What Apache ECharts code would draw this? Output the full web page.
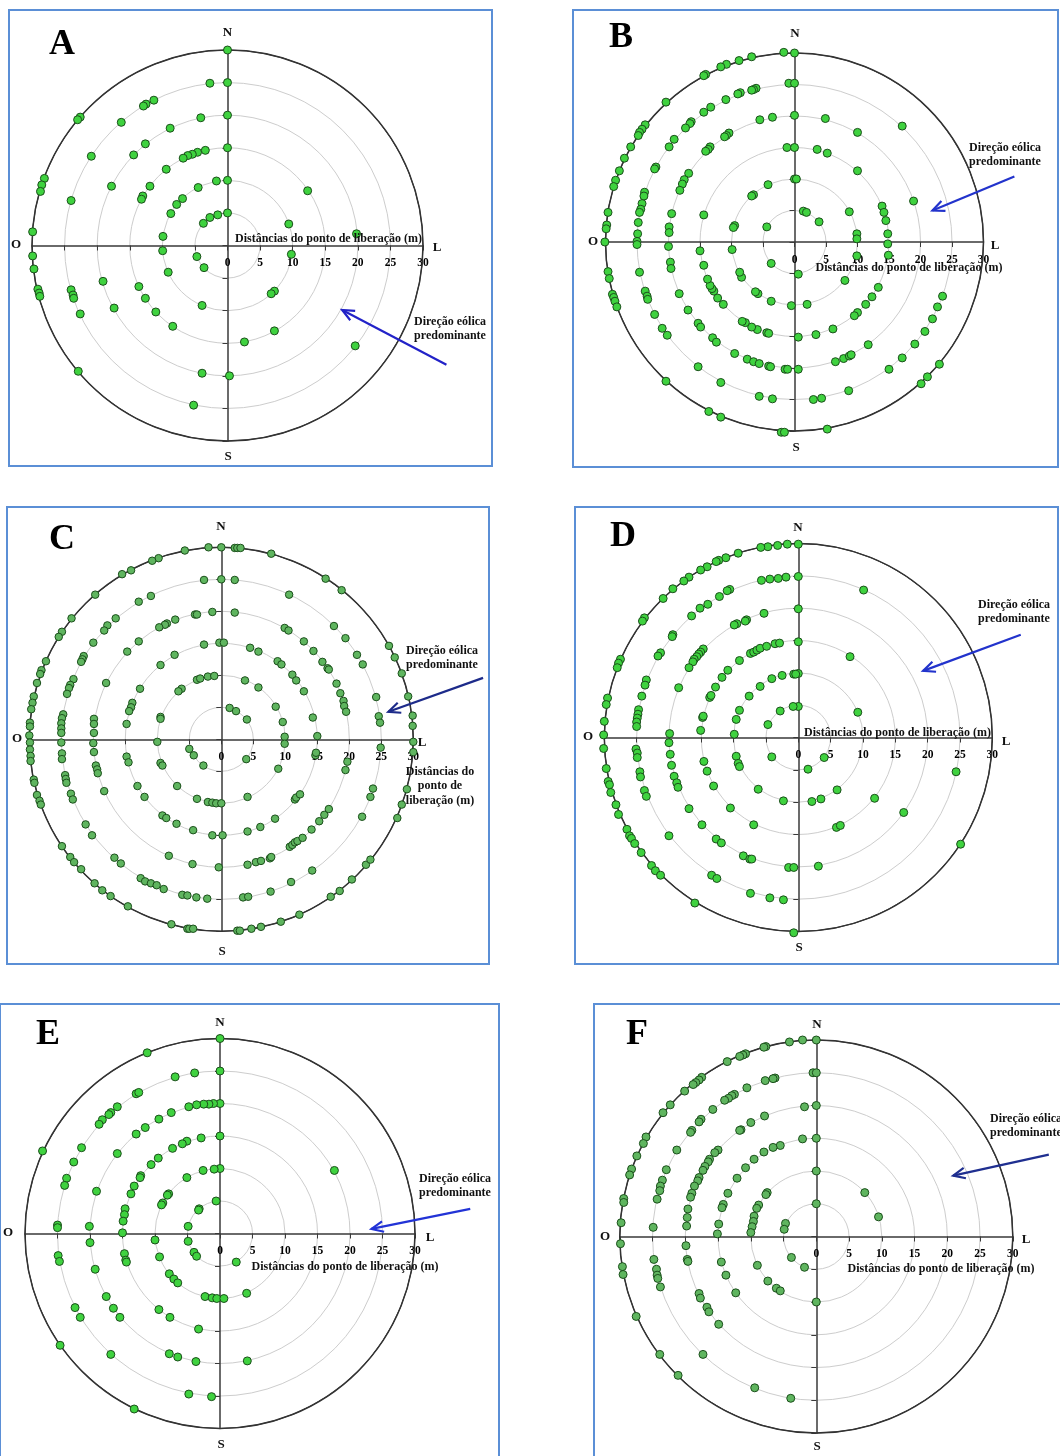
<!DOCTYPE html>
<html><head><meta charset="utf-8">
<script src="https://cdn.jsdelivr.net/npm/echarts@6/dist/echarts.min.js"></script>
<style>html,body{margin:0;padding:0;background:#fff}#chart{width:1060px;height:1456px}</style>
</head><body><div id="chart"></div>
<script>
// ---------- DATA (east, north) in metres from release point ----------
const tickValues = [0, 5, 10, 15, 20, 25, 30];
const panelNames = ['A', 'B', 'C', 'D', 'E', 'F'];
const compassLabels = { N: 'N', S: 'S', O: 'O', L: 'L' };
const axisTitle = 'Distâncias do ponto de liberação (m)';
const axisTitleC = 'Distâncias do\nponto de\nliberação (m)';
const windLabel = 'Direção eólica\npredominante';

const ptsA = [
  [0,30],[-2.7,24.9],[0,25],[-11.3,22.3],[-12.5,21.7],[-12.9,21.4],[-22.6,19.7],[-23.0,19.3],[-16.3,18.9],[-4.1,19.6],
  [0,20],[-8.8,18.0],[-12.6,15.6],[-14.4,13.9],[-20.9,13.7],[-3.4,14.6],[-4.6,14.3],[-5.4,14.0],[-6.1,13.8],[-6.8,13.4],
  [0,15],[-9.4,11.7],[-28.1,10.3],[-28.5,9.3],[-28.7,8.3],[-17.8,9.1],[-11.9,9.1],[-1.7,9.9],[0,10],[-4.5,8.9],
  [-6.9,7.2],[-7.8,6.3],[-13.0,7.6],[-13.2,7.1],[-24.0,6.9],[12.3,8.4],[-8.7,4.9],[-1.5,4.7],[-2.7,4.3],[-3.7,3.4],
  [0,5],[9.4,3.3],[19.8,1.8],[-29.9,2.1],[-9.9,1.4],
  [-9.95,-0.8],[-29.9,-1.6],[-29.7,-3.6],[-29.1,-6.7],[-28.9,-7.3],[-28.8,-7.8],[-24.0,-6.8],[-23.7,-7.6],[-23.6,-8.1],[-22.6,-10.5],
  [-19.1,-5.5],[-17.4,-9.6],[-13.6,-6.3],[-12.6,-8.1],[-11.0,-10.2],[-8.4,-12.4],[-4.7,-1.7],[-3.6,-3.4],[-9.1,-4.1],[-3.9,-9.2],
  [9.8,-1.35],[7.2,-7.0],[6.7,-7.4],[7.2,-13.1],[2.6,-14.8],[19.6,-15.4],[-22.9,-19.3],[-3.9,-19.6],[0.3,-20.0],[-5.2,-24.5]
];

const ptsB = [
  [0,30],[-1.7,30.1],[-6.8,29.4],[-8.8,28.8],[-10.8,28.2],[-11.7,27.8],[-14.1,26.6],[-14.4,26.4],[-20.4,22.2],[-23.7,18.6],
  [-24.2,17.9],[-24.6,17.4],[-24.8,16.9],[-26.0,15.1],[-27.0,13.3],[-27.8,11.3],[-28.4,9.8],[-28.7,8.8],[-29.6,4.7],[-29.8,2.7],
  [-29.9,2.1],[-30.1,0],
  [-0.9,25.2],[0,25.2],[-6.1,24.4],[-6.5,24.2],[-6.8,24.1],[-8.6,23.7],[-9.0,23.5],[-10.9,22.6],[-13.3,21.4],[-14.4,20.6],
  [-16.4,19.1],[-16.6,18.8],[-17.3,18.1],[-19.1,16.3],[-19.9,15.1],[-22.0,11.9],[-22.2,11.6],[-23.8,7.9],[-23.9,7.3],[-24.2,6.1],
  [-24.4,5.2],[-24.6,4.7],[-24.8,3.1],[-24.9,1.3],[-25.0,0.1],[17.1,18.4],
  [0,20.1],[-3.5,19.8],[-5.5,19.4],[-10.4,17.3],[-10.8,16.9],[-11.1,16.7],[-13.4,15.1],[-13.7,14.7],[-14.1,14.4],[-16.8,10.9],
  [-17.5,9.9],[-17.8,9.2],[-18.2,8.2],[-19.5,4.5],[-19.9,2.4],[-19.9,1.5],[4.9,19.6],[10.0,17.4],[18.9,6.5],
  [-1.2,15.0],[0,15],[3.6,14.7],[5.2,14.1],[10.0,11.3],[13.9,5.7],[14.2,4.7],[14.5,3.4],[14.8,1.3],[14.8,-0.3],[-14.4,4.3],
  [0,10],[0.3,10],[-4.2,9.1],[-6.5,7.5],[-6.8,7.3],[-9.5,2.6],[-9.7,2.3],[8.7,4.8],[9.9,1.3],[9.9,0.5],
  [1.4,4.9],[1.9,4.7],[3.9,3.2],[-4.4,2.4],
  [-29.6,-4.7],[-29.4,-5.8],[-28.9,-8.3],[-28.7,-8.8],[-28.5,-9.4],[-28.2,-10.3],[-20.4,-22.1],[-13.6,-26.9],[-11.7,-27.8],[-2.1,-30.2],
  [-1.6,-30.2],[5.2,-29.7],[20.1,-22.5],[21.1,-21.4],[23.0,-19.4],
  [-25.0,-0.4],[-24.6,-4.8],[-23.7,-7.8],[-23.4,-8.6],[-23.3,-9.1],[-22.2,-11.5],[-21.0,-13.7],[-20.2,-14.8],[-15.3,-19.8],[-11.7,-22.3],
  [-5.6,-24.5],[-3.5,-24.9],[3.0,-25.0],[4.3,-24.8],[8.6,-23.6],[15.0,-20.2],[17.1,-18.4],[19.1,-16.2],[20.7,-14.2],[21.9,-12.2],
  [22.7,-10.3],[23.5,-8.6],
  [-20.0,-0.7],[-19.7,-3.2],[-19.6,-4.2],[-18.3,-8.2],[-16.9,-10.8],[-15.3,-12.9],[-14.9,-13.5],[-13.0,-15.2],[-12.4,-15.9],[-9.5,-17.7],
  [-7.5,-18.6],[-6.5,-19.0],[-5.6,-19.3],[-4.1,-19.7],[-3.8,-19.8],[-1.5,-20.2],[-1.1,-20.2],[0.6,-20.2],[6.5,-19.0],[7.8,-18.5],
  [8.7,-18.1],[9.0,-17.9],[11.7,-16.3],
  [14.9,-2.1],[13.3,-7.2],[12.3,-8.7],[11.3,-9.9],[10.0,-11.2],[9.5,-11.7],[6.1,-13.8],[3.4,-14.7],[0.6,-15.1],[-5.9,-13.9],
  [-4.4,-14.4],[-4.1,-14.5],[-6.8,-13.5],[-7.8,-12.8],[-8.3,-12.6],[-11.3,-9.9],[-12.2,-8.9],[-12.8,-7.8],[-13.1,-7.4],[-13.4,-6.9],
  [-13.8,-5.9],[-14.4,-3.7],[-15.0,-1.4],
  [-0.5,-10.1],[2.0,-9.9],[-3.7,-9.4],[-5.8,-8.2],[-6.2,-7.9],[-8.4,-5.6],[-8.7,-4.8],[-9.9,-1.2],[8.0,-6.1],[9.9,-2.2],
  [0.6,-5.1],[-3.7,-3.4]
];

const ptsC = [
  [-2.0,30.0],[0,30],[2.1,29.9],[2.5,29.9],[3.0,29.9],[7.8,29.0],[16.3,25.1],[18.8,23.3],[26.2,14.6],[27.1,12.8],
  [28.2,10.3],[29.2,6.7],[29.9,3.7],[29.9,2.1],[30.0,-0.4],[-5.7,29.5],[-9.8,28.3],[-10.8,27.9],[-14.1,26.4],[-15.5,25.8],
  [-19.7,22.6],[-23.4,18.9],[-24.9,16.8],[-25.4,16.0],[-27.4,12.2],[-28.1,10.8],[-28.3,10.2],[-28.8,8.8],[-29.3,6.7],[-29.5,5.7],
  [-29.7,4.7],[-29.9,2.6],[-29.9,2.0],[-30.0,0.6],
  [-2.7,24.9],[0,25],[2.1,24.9],[10.6,22.6],[17.6,17.7],[19.4,15.8],[21.2,13.2],[22.1,11.7],[24.2,6.6],[24.6,3.6],
  [24.8,2.6],[-11.0,22.4],[-12.9,21.5],[-16.5,18.9],[-17.8,17.8],[-18.3,17.0],[-20.0,15.1],[-21.5,13.0],[-21.7,12.5],[-21.9,12.1],
  [-23.1,9.4],[-23.6,8.5],[-23.8,8.0],[-24.1,7.1],[-24.7,3.9],[-24.9,3.3],[-25.0,2.5],[-25.0,1.7],[-25.0,1.0],
  [-4.1,19.5],[-3.8,19.5],[-1.4,19.9],[2.1,19.8],[-7.2,18.7],[-8.5,18.1],[-8.8,17.9],[-9.7,17.5],[-12.9,15.3],[-14.7,13.7],
  [-18.0,8.8],[-19.9,3.2],[-19.9,2.4],[-19.9,1.0],[9.9,17.4],[10.5,17.0],[12.9,15.3],[14.4,13.8],[15.8,12.1],[16.6,11.1],
  [16.8,10.9],[18.0,8.7],[18.6,7.2],[19.1,6.0],[19.2,5.2],[19.5,4.3],
  [-2.7,14.8],[-0.3,15.1],[0.4,15.1],[4.5,14.3],[5.8,13.7],[-7.3,13.2],[-9.5,11.6],[8.8,12.2],[9.4,11.7],[11.1,10.1],
  [11.7,9.2],[12.9,7.5],[-12.7,7.9],[-13.9,5.7],[-14.1,5.0],[-14.4,4.4],[-14.8,2.4],[14.3,3.4],[15.0,0.5],
  [-3.8,9.3],[-3.3,9.5],[-2.1,9.8],[-1.1,9.9],[3.7,9.2],[5.8,8.1],[8.5,5.1],[9.6,2.7],[9.9,0.4],[-6.2,7.9],
  [-6.7,7.5],[-9.5,3.5],[-9.5,3.2],[1.3,4.9],[2.3,4.4],[4.0,3.1],
  [-29.9,-0.5],[-29.9,-1.6],[-29.8,-2.6],[-29.8,-3.4],[-29.3,-6.3],[-29.2,-6.8],[-28.8,-8.7],[-28.4,-9.6],[-28.2,-10.2],[-24.9,-16.7],
  [-23.6,-18.4],[-23.0,-19.2],[-21.9,-20.3],[-19.8,-22.5],[-18.6,-23.6],[-17.3,-24.5],[-14.6,-26.1],[-7.8,-28.9],[-5.3,-29.6],[-5.0,-29.6],
  [-4.4,-29.6],[2.5,-29.9],[2.9,-29.9],[4.7,-29.6],[6.2,-29.3],[9.3,-28.5],[12.2,-27.4],[17.1,-24.6],[18.5,-23.7],[20.4,-21.9],
  [22.6,-19.6],[23.3,-18.8],[27.5,-12.3],[28.2,-10.2],[29.0,-7.8],[30.0,-2.0],
  [-25.0,-0.5],[-24.9,-2.2],[-24.9,-3.1],[-24.4,-5.6],[-24.3,-6.2],[-24.2,-6.8],[-23.5,-8.5],[-23.2,-9.4],[-21.2,-13.3],[-20.2,-15.0],
  [-16.7,-18.5],[-15.7,-19.4],[-12.6,-21.7],[-11.9,-22.2],[-11.0,-22.5],[-10.1,-22.8],[-9.0,-23.4],[-6.1,-24.3],[-5.3,-24.4],[-3.9,-24.7],
  [-2.2,-24.9],[3.4,-24.7],[4.2,-24.6],[7.7,-23.8],[10.9,-22.3],[14.2,-20.5],[22.0,-12.1],[23.3,-9.0],[23.7,-7.7],[24.9,-1.3],
  [-20.0,-0.6],[-19.9,-2.0],[-19.6,-4.1],[-19.4,-4.7],[-19.3,-5.3],[-18.3,-8.1],[-8.2,-18.2],[-4.5,-19.5],[-0.4,-20.0],[4.1,-19.6],
  [5.4,-19.2],[6.2,-19.0],[7.6,-18.6],[7.8,-18.4],[10.7,-16.8],[11.1,-16.5],[11.5,-16.1],[11.9,-15.9],[12.7,-15.4],[14.1,-14.1],
  [15.3,-12.8],[16.1,-11.8],[16.8,-10.9],[19.7,-3.5],[19.4,-4.8],
  [-14.8,-2.7],[-14.5,-3.6],[-13.1,-7.3],[-12.0,-9.0],[-9.2,-11.9],[-8.6,-12.3],[-7.0,-13.2],[-4.4,-14.2],[-1.4,-15.0],[0.2,-15.0],
  [4.1,-14.4],[6.1,-13.7],[8.4,-12.4],[11.5,-9.4],[11.7,-9.1],[12.3,-8.6],[14.7,-2.5],[14.8,-2.1],
  [-10.0,-0.4],[-9.5,-3.7],[-9.2,-4.1],[-6.9,-7.3],[-3.8,-9.3],[-2.1,-9.8],[-1.4,-9.9],[-0.8,-10.0],[0,-10],[4.1,-9.0],
  [8.9,-4.6],[9.9,-0.7],[-5.0,-1.5],[-4.3,-2.5],[-2.8,-4.1],[3.9,-3.1]
];

const ptsD = [
  [0,29.9],[-1.7,29.9],[-3.2,29.7],[-4.7,29.5],[-5.8,29.4],[-9.3,28.5],[-11.2,27.8],[-12.3,27.4],[-12.7,27.2],[-14.1,26.4],
  [-15.1,25.9],[-16.9,24.8],[-17.7,24.2],[-19.4,23.0],[-20.9,21.5],[-23.8,18.5],[-24.1,18.0],[-27.5,12.1],[-27.8,11.5],[-28.0,10.8],
  [-29.5,6.1],[-29.7,5.1],[-30.0,2.5],[-30.1,0.4],
  [0,24.9],[-1.9,24.8],[-3.1,24.6],[-4.4,24.5],[-5.7,24.3],[-10.6,22.9],[-11.0,22.7],[-12.2,21.8],[-14.0,20.6],[-15.2,20.0],
  [-16.5,18.8],[-19.4,15.9],[-19.5,15.6],[-21.3,13.1],[-21.7,12.6],[-23.5,8.9],[-23.7,8.1],[-24.2,6.4],[-24.7,4.3],[-24.8,3.6],
  [-24.9,3.0],[-25.0,2.4],[-25.0,1.7],[10.1,22.8],
  [0,19.9],[-5.3,19.2],[-8.0,18.2],[-8.2,18.0],[-9.5,17.6],[-9.9,17.4],[-14.7,13.7],[-15.1,13.2],[-15.4,12.9],[-15.7,12.5],
  [-16.1,12.1],[-16.3,11.7],[-16.9,10.8],[-18.5,7.7],[-19.9,0.6],
  [-15.1,1.1],[-14.8,3.1],[-14.7,3.3],[-13.7,6.2],[-13.5,6.5],[-12.8,7.8],[-11.8,9.3],[-10.9,10.4],[-9.1,11.9],[-7.4,13.0],
  [-6.9,13.2],[-6.4,13.5],[-5.9,13.8],[-4.9,14.1],[-3.6,14.5],[-2.9,14.6],[0,14.8],[8.0,12.5],
  [0,9.9],[-0.7,9.8],[-0.4,9.8],[-2.5,9.6],[-4.1,9.1],[-5.9,7.9],[-7.6,6.4],[-9.1,4.2],[-9.6,2.8],[-9.9,0.5],
  [9.2,3.9],[0,4.8],[-0.8,4.8],[-2.8,4.1],[-4.7,2.0],
  [-30.1,-1.7],[-29.7,-4.8],[-29.4,-6.8],[-29.2,-7.3],[-29.0,-8.5],[-28.2,-10.4],[-27.8,-11.9],[-26.5,-14.2],[-26.1,-15.2],[-25.8,-15.6],
  [-25.3,-16.4],[-24.3,-17.8],[-22.7,-19.8],[-22.1,-20.6],[-21.3,-21.3],[-16.0,-25.6],[-0.7,-30.2],[25.1,-16.5],
  [-25.1,-1.8],[-24.9,-2.4],[-24.9,-3.1],[-24.5,-5.3],[-24.4,-6.1],[-23.8,-8.2],[-23.5,-9.1],[-20.0,-15.2],[-13.4,-21.3],[-12.6,-21.8],
  [-7.4,-24.1],[-4.4,-24.8],[-2.3,-25.1],[24.4,-5.3],
  [-20.0,-0.8],[-19.8,-2.6],[-19.6,-4.3],[-19.2,-6.0],[-18.8,-7.0],[-18.6,-7.7],[-16.9,-11.0],[-14.9,-13.5],[-12.7,-15.7],[-11.9,-16.3],
  [-8.5,-18.3],[-7.5,-18.8],[-7.2,-18.8],[-1.5,-20.1],[-0.7,-20.1],[3.1,-19.9],[16.3,-11.6],
  [-14.6,-3.7],[-14.1,-5.2],[-13.1,-7.5],[-10.5,-10.9],[-6.9,-13.5],[5.9,-13.9],[6.5,-13.6],[11.8,-9.4],
  [-9.6,-2.9],[-9.3,-4.0],[-9.1,-4.5],[-6.2,-8.0],[-2.3,-9.8],[2.1,-9.9],[3.5,-9.5],[6.0,-8.1],
  [-4.1,-3.0],[1.5,-4.9],[4.0,-3.1]
];

const ptsE = [
  [0,30],[-11.2,27.8],[-27.3,12.7],[-3.9,24.7],[-6.9,24.1],[0,25],[-12.9,21.5],[-12.5,21.7],[-15.8,19.5],[-16.8,18.6],
  [-17.1,18.3],[-18.1,17.5],[-18.6,16.8],[-21.3,13.2],[-22.5,11.0],[-23.6,8.5],[-23.9,7.4],[-25.0,1.3],[-25.0,0.9],
  [0,20],[-1.0,20.0],[-1.7,19.9],[-2.5,19.9],[-3.6,19.8],[-4.8,19.5],[-7.5,18.6],[-9.4,17.6],[-11.5,16.3],[-12.9,15.3],
  [-15.8,12.3],[-19.0,6.5],[-20.1,1.1],
  [0,15],[-2.9,14.7],[-5.1,14.2],[-5.8,13.8],[-7.3,13.1],[-9.5,11.6],[-10.6,10.6],[-12.2,8.9],[-12.3,8.6],[-13.2,7.3],
  [-13.7,6.1],[-14.6,3.8],[-14.7,2.9],[-14.9,1.9],[-15.0,0.1],[17.6,9.7],
  [0,10],[-0.9,9.9],[-2.6,9.7],[-5.1,8.6],[-7.9,6.1],[-8.1,5.9],[-8.8,4.7],[-9.0,4.4],[-10.0,-1.0],
  [-0.6,5.0],[-3.2,3.8],[-3.3,3.6],[-4.9,1.1],[-4.9,-1.2],
  [-24.9,-3.4],[-24.7,-4.3],[-20.0,-1.4],[-14.7,-3.1],[-14.5,-4.1],[-14.4,-4.4],[-9.3,-3.6],[-4.0,-2.9],[-3.6,-3.5],[2.5,-4.4],
  [-19.2,-5.5],[-7.8,-6.2],[-7.1,-7.0],[-6.5,-7.6],[-17.5,-9.7],[-22.3,-11.4],[-21.5,-12.9],[-16.4,-11.5],[-15.4,-12.9],[-9.4,-11.7],
  [-7.7,-12.9],[-3.3,-14.7],[-2.3,-9.7],[-1.2,-9.9],[-0.5,-10.0],[0.6,-10.0],[4.1,-9.2],[-24.6,-17.2],[-16.8,-18.6],[-7.8,-18.5],
  [-6.5,-19.0],[-3.7,-19.7],[4.2,-19.6],[-4.8,-24.7],[-1.3,-25.1],[-13.2,-27.0]
];

const ptsF = [
  [0,30],[-2.1,30.0],[-4.1,29.7],[-7.7,29.0],[-8.0,28.9],[-10.8,27.9],[-11.2,27.7],[-11.7,27.5],[-13.6,26.7],[-17.5,24.3],
  [-17.9,23.9],[-18.4,23.5],[-18.8,23.2],[-20.1,22.2],[-22.3,20.1],[-23.4,18.9],[-26.0,15.2],[-26.4,14.2],[-27.4,12.3],[-28.2,10.3],
  [-28.5,9.4],[-29.4,5.8],[-29.4,5.2],[-29.8,2.1],
  [-0.5,25.0],[0,25],[-6.3,24.2],[-6.6,24.1],[-7.8,23.8],[-10.6,22.7],[-12.5,21.7],[-12.9,21.5],[-13.4,21.1],[-14.0,20.8],
  [-15.8,19.4],[-17.6,17.9],[-17.9,17.5],[-19.0,16.2],[-19.2,15.9],[-21.3,13.2],[-22.9,10.2],[-23.5,8.6],[-23.8,7.7],[-23.9,7.0],
  [-24.3,5.7],[-24.9,1.4],
  [0,20],[-1.8,19.8],[-7.9,18.4],[-10.0,17.4],[-11.5,16.3],[-11.7,16.2],[-15.0,13.2],[-15.5,12.8],[-16.3,11.8],[-16.5,11.4],
  [-17.0,10.7],[-17.3,10.1],[-17.9,9.0],[-18.1,8.5],[-18.6,7.7],[-19.0,6.6],[-19.2,6.0],[-19.6,4.2],[-19.7,2.9],[-19.8,1.6],
  [0,15],[-2.1,14.9],[-5.5,13.9],[-6.6,13.6],[-8.0,12.9],[-9.5,11.8],[-10.8,10.5],[-12.1,8.9],[-13.5,6.6],[-14.2,4.9],
  [-14.4,4.4],[-14.9,1.9],[-15.1,0.4],
  [0,10],[-7.5,6.7],[-7.7,6.4],[-8.8,4.8],[-9.1,4.3],[-9.5,3.1],[-9.6,2.3],[-9.8,1.5],[-10.0,0.6],[7.4,6.7],
  [9.5,3.0],[0,5],[-4.7,2.0],[-4.9,1.1],
  [-29.9,-1.1],[-29.6,-4.6],[-29.5,-5.8],[-24.8,-3.5],[-24.4,-5.0],[-24.3,-5.9],[-24.2,-6.4],[-23.8,-7.7],[-27.5,-12.2],[-23.9,-18.0],
  [-21.1,-21.2],[-19.9,-1.4],[-19.7,-3.5],[-19.6,-3.8],[-14.5,-3.9],[-13.8,-5.9],[-12.3,-8.6],[-17.9,-8.7],[-17.7,-9.4],[-16.7,-10.8],
  [-16.4,-11.5],[-14.9,-13.4],[-17.3,-18.0],[-9.0,-4.4],[-7.4,-6.8],[-6.1,-7.9],[-5.5,-8.3],[-3.8,-3.2],[-1.8,-4.7],[0,-10],
  [-9.4,-23.1],[-3.9,-24.7]
];

// wind arrows: [tail, head] in metres
const arrowA = [[33.6,-18.3],[17.6,-9.9]];
const arrowB = [[34.9,10.4],[21.9,5.0]];
const arrowC = [[40.9,9.6],[26.1,4.3]];
const arrowD = [[34.4,15.9],[19.3,10.3]];
const arrowE = [[38.5,3.8],[23.3,0.7]];
const arrowF = [[35.5,12.5],[20.9,9.3]];

const allPts = [ptsA, ptsB, ptsC, ptsD, ptsE, ptsF];
const allArrows = [arrowA, arrowB, arrowC, arrowD, arrowE, arrowF];

// ---------- LAYOUT / STYLE ----------
const layout = [
  {box:[9,10,483,456], c:[227.5,245.5], r:195.5, fill:'#3fd23f', letter:[62,45],
   N:[227.5,33], S:[228,457], O:[16,245], L:[437,248],
   title:{x:422,y:239,align:'right',multi:false}, wind:{x:450,y:329,align:'center'}, arrow:'#2222c8'},
  {box:[573,10,485,457], c:[794.5,242], r:189, fill:'#3fd23f', letter:[621,38],
   N:[795,34], S:[796,448], O:[593,242], L:[995,246],
   title:{x:909,y:268,align:'center',multi:false}, wind:{x:1005,y:155,align:'center'}, arrow:'#2233cc'},
  {box:[7,507,482,457], c:[221.3,739.3], r:192, fill:'#5fb55f', letter:[62,540],
   N:[221,527], S:[222,952], O:[17,739], L:[422,743],
   title:{x:440,y:786,align:'center',multi:true}, wind:{x:442,y:658,align:'center'}, arrow:'#1d2b8a'},
  {box:[575,507,483,457], c:[798.3,737.5], r:194, fill:'#3fd23f', letter:[623,537],
   N:[798,528], S:[799,948], O:[588,737], L:[1006,742],
   title:{x:991,y:733,align:'right',multi:false}, wind:{x:1014,y:612,align:'center'}, arrow:'#2233cc'},
  {box:[0,1004,499,462], c:[220,1233.5], r:195, fill:'#3fd23f', letter:[48,1035],
   N:[220,1023], S:[221,1445], O:[8,1233], L:[430,1238],
   title:{x:345,y:1267,align:'center',multi:false}, wind:{x:455,y:1186,align:'center'}, arrow:'#2233d6'},
  {box:[594,1004,475,462], c:[816.3,1236.5], r:196.5, fill:'#5fb55f', letter:[637,1035],
   N:[817,1025], S:[817,1447], O:[605,1237], L:[1026,1240],
   title:{x:941,y:1269,align:'center',multi:false}, wind:{x:990,y:1126,align:'left'}, arrow:'#1f2f90'}
];

const FONT = '"Liberation Serif", "Times New Roman", serif';

const grids = [], xAxes = [], yAxes = [], polars = [], angleAxes = [], radiusAxes = [], series = [];
layout.forEach((p, i) => {
  grids.push({left: p.c[0] - p.r, top: p.c[1] - p.r, width: 2 * p.r, height: 2 * p.r, show: false});
  const axisCommon = {
    gridIndex: i, type: 'value', min: -30, max: 30, interval: 5,
    axisLine: {show: true, onZero: false, lineStyle: {color: '#3a3a3a', width: 1.5}},
    axisTick: {show: true, length: 5, lineStyle: {color: '#3a3a3a', width: 1}},
    splitLine: {show: false}
  };
  // axes moved to the centre of the circle (offset = -radius)
  xAxes.push(Object.assign({}, axisCommon, {
    position: 'bottom', offset: -p.r,
    axisLabel: {show: true, margin: 12, color: '#000', fontFamily: FONT, fontWeight: 'bold', fontSize: 11.5,
      showMinLabel: true, showMaxLabel: true, hideOverlap: false,
      formatter: v => (tickValues.indexOf(v) >= 0 ? String(v) : '')}
  }));
  yAxes.push(Object.assign({}, axisCommon, {position: 'left', offset: -p.r, axisLabel: {show: false}}));
  polars.push({center: [p.c[0], p.c[1]], radius: p.r});
  angleAxes.push({polarIndex: i, type: 'value', min: 0, max: 360, startAngle: 90, clockwise: true,
    axisLine: {show: true, lineStyle: {color: '#333', width: 1.5}},
    axisTick: {show: false}, axisLabel: {show: false}, splitLine: {show: false}, z: 1});
  radiusAxes.push({polarIndex: i, type: 'value', min: 0, max: 30, interval: 5,
    axisLine: {show: false}, axisTick: {show: false}, axisLabel: {show: false},
    splitLine: {show: true, lineStyle: {color: ['#cdcdcd','#cdcdcd','#cdcdcd','#cdcdcd','#cdcdcd','#cdcdcd','#333'], width: 1}}});
  series.push({
    type: 'scatter', xAxisIndex: i, yAxisIndex: i, data: allPts[i], clip: false,
    symbol: 'circle', symbolSize: i === 2 ? 7.5 : 8,
    itemStyle: {color: p.fill, borderColor: '#1b4f1b', borderWidth: 1, opacity: 1},
    emphasis: {disabled: true}, silent: true, z: 5
  });
});

const chart = echarts.init(document.getElementById('chart'), null, {renderer: 'canvas'});
chart.setOption({
  backgroundColor: '#ffffff',
  animation: false,
  grid: grids, xAxis: xAxes, yAxis: yAxes,
  polar: polars, angleAxis: angleAxes, radiusAxis: radiusAxes,
  series: series
});

// ---------- annotations ----------
const g = [];
layout.forEach((p, i) => {
  g.push({type: 'rect', z: 50, silent: true,
    shape: {x: p.box[0], y: p.box[1], width: p.box[2], height: p.box[3]},
    style: {fill: 'none', stroke: '#5b8fd6', lineWidth: 2}});
  g.push({type: 'text', z: 60, x: p.letter[0], y: p.letter[1], silent: true,
    style: {text: panelNames[i], font: 'bold 36px ' + FONT, fill: '#000', align: 'center', verticalAlign: 'middle'}});
  ['N', 'S', 'O', 'L'].forEach(k => {
    g.push({type: 'text', z: 60, x: p[k][0], y: p[k][1], silent: true,
      style: {text: compassLabels[k], font: 'bold 13px ' + FONT, fill: '#111', align: 'center', verticalAlign: 'middle'}});
  });
  g.push({type: 'text', z: 60, x: p.title.x, y: p.title.y, silent: true,
    style: {text: p.title.multi ? axisTitleC : axisTitle, font: 'bold 12px ' + FONT, fill: '#111',
      align: p.title.align, verticalAlign: 'middle', lineHeight: 14.5}});
  g.push({type: 'text', z: 60, x: p.wind.x, y: p.wind.y, silent: true,
    style: {text: windLabel, font: 'bold 12px ' + FONT, fill: '#111',
      align: p.wind.align, verticalAlign: 'middle', lineHeight: 14}});
  // arrow through the library's scale
  const t = chart.convertToPixel({gridIndex: i}, allArrows[i][0]);
  const h = chart.convertToPixel({gridIndex: i}, allArrows[i][1]);
  const dx = h[0] - t[0], dy = h[1] - t[1];
  const len = Math.sqrt(dx * dx + dy * dy);
  const ux = dx / len, uy = dy / len;
  const hl = 13, ang = 0.42;
  const ca = Math.cos(ang), sa = Math.sin(ang);
  const b1 = [h[0] - hl * (ux * ca - uy * sa), h[1] - hl * (uy * ca + ux * sa)];
  const b2 = [h[0] - hl * (ux * ca + uy * sa), h[1] - hl * (uy * ca - ux * sa)];
  g.push({type: 'line', z: 55, silent: true, shape: {x1: t[0], y1: t[1], x2: h[0], y2: h[1]},
    style: {stroke: p.arrow, lineWidth: 2.2}});
  g.push({type: 'polyline', z: 55, silent: true, shape: {points: [b1, h, b2]},
    style: {stroke: p.arrow, lineWidth: 2.2, fill: 'none'}});
});
chart.setOption({graphic: g});
</script>
</body></html>
